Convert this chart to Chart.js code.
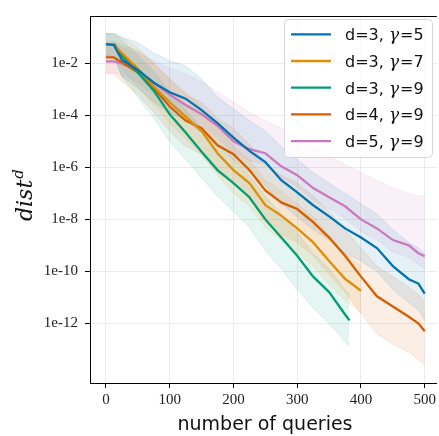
<!DOCTYPE html>
<html>
<head>
<meta charset="utf-8">
<script src="https://cdn.jsdelivr.net/npm/chart.js@4/dist/chart.umd.min.js"></script>
<style>
  body { margin: 0; background: #fff; }
  canvas { display: block; }
</style>
</head>
<body>
<canvas id="myChart" width="439" height="436"></canvas>
<script>
// x values (number of queries)
const queries = [0, 12, 25, 50, 75, 100, 125, 150, 175, 200, 225, 250, 275, 300, 325, 350, 375, 400, 425, 450, 475, 490, 500]
const queriesG7 = [0, 12, 25, 50, 75, 100, 125, 150, 175, 200, 225, 250, 275, 300, 325, 350, 375, 400]
const queriesG9 = [0, 14, 25, 50, 75, 100, 125, 150, 175, 200, 225, 250, 275, 300, 325, 350, 375, 382]

// d=3, gamma=5
const d3g5 = [5.5e-2, 5.2e-2, 1.4e-2, 5.6e-3, 1.8e-3, 7.8e-4, 4.4e-4, 1.6e-4, 5.0e-5, 1.4e-5, 4.3e-6, 1.6e-6, 3.2e-7, 1.1e-7, 3.5e-8, 1.3e-8, 4.5e-9, 2.0e-9, 7.9e-10, 1.6e-10, 5.0e-11, 3.4e-11, 1.4e-11]
const d3g5Hi = [1.4e-1, 1.4e-1, 1.0e-1, 6.3e-2, 2.5e-2, 1.3e-2, 7.9e-3, 2.5e-3, 5.0e-4, 1.8e-4, 6.3e-5, 2.5e-5, 6.3e-6, 2.0e-6, 6.3e-7, 2.5e-7, 1.0e-7, 4.0e-8, 1.6e-8, 4.0e-9, 1.3e-9, 7.9e-10, 5.0e-10]
const d3g5Lo = [2.0e-2, 1.8e-2, 3.2e-3, 1.1e-3, 3.2e-4, 1.3e-4, 6.3e-5, 2.2e-5, 7.9e-6, 2.0e-6, 6.3e-7, 2.0e-7, 4.0e-8, 1.3e-8, 4.0e-9, 1.6e-9, 5.0e-10, 2.5e-10, 1.0e-10, 2.0e-11, 6.3e-12, 3.2e-12, 1.3e-12]

// d=3, gamma=7
const d3g7 = [5.5e-2, 5.2e-2, 2.5e-2, 6.3e-3, 1.3e-3, 3.2e-4, 8.9e-5, 2.5e-5, 3.5e-6, 7.9e-7, 2.5e-7, 3.5e-8, 1.4e-8, 4.5e-9, 1.3e-9, 2.5e-10, 5.2e-11, 1.8e-11]
const d3g7Hi = [1.4e-1, 1.3e-1, 1.0e-1, 4.0e-2, 1.0e-2, 2.5e-3, 7.9e-4, 2.0e-4, 3.2e-5, 6.3e-6, 2.0e-6, 3.2e-7, 1.3e-7, 4.0e-8, 1.3e-8, 2.5e-9, 5.0e-10, 1.6e-10]
const d3g7Lo = [2.0e-2, 1.8e-2, 6.3e-3, 1.3e-3, 2.5e-4, 5.0e-5, 1.3e-5, 3.2e-6, 5.0e-7, 1.0e-7, 3.2e-8, 5.0e-9, 1.6e-9, 5.0e-10, 1.6e-10, 3.2e-11, 7.9e-12, 2.5e-12]

// d=3, gamma=9
const d3g9 = [5.5e-2, 5.2e-2, 2.0e-2, 4.5e-3, 8.9e-4, 1.1e-4, 2.2e-5, 4.0e-6, 7.9e-7, 2.5e-7, 7.1e-8, 1.0e-8, 2.0e-9, 4.0e-10, 6.3e-11, 1.6e-11, 2.2e-12, 1.3e-12]
const d3g9Hi = [1.4e-1, 1.4e-1, 7.9e-2, 2.0e-2, 5.0e-3, 7.9e-4, 1.6e-4, 3.2e-5, 6.3e-6, 2.0e-6, 5.0e-7, 7.9e-8, 1.6e-8, 3.2e-9, 5.0e-10, 1.3e-10, 2.0e-11, 1.3e-11]
const d3g9Lo = [2.0e-2, 1.8e-2, 3.2e-3, 5.0e-4, 7.9e-5, 1.0e-5, 2.0e-6, 4.0e-7, 7.9e-8, 2.0e-8, 5.0e-9, 6.3e-10, 1.3e-10, 2.0e-11, 4.0e-12, 1.0e-12, 2.0e-13, 1.3e-13]

// d=4, gamma=9
const d4g9 = [1.7e-2, 1.7e-2, 1.1e-2, 4.5e-3, 1.1e-3, 2.2e-4, 6.3e-5, 3.2e-5, 7.1e-6, 3.2e-6, 7.9e-7, 1.3e-7, 4.5e-8, 2.5e-8, 7.9e-9, 2.0e-9, 4.0e-10, 6.3e-11, 1.1e-11, 4.5e-12, 1.8e-12, 1.0e-12, 5.0e-13]
const d4g9Hi = [7.1e-2, 7.1e-2, 5.0e-2, 3.2e-2, 1.0e-2, 2.5e-3, 6.3e-4, 3.2e-4, 7.9e-5, 3.2e-5, 7.9e-6, 1.3e-6, 5.0e-7, 2.5e-7, 7.9e-8, 2.0e-8, 4.0e-9, 7.9e-10, 1.6e-10, 6.3e-11, 2.5e-11, 1.3e-11, 6.3e-12]
const d4g9Lo = [4.0e-3, 4.0e-3, 2.0e-3, 6.3e-4, 1.3e-4, 2.5e-5, 6.3e-6, 3.2e-6, 6.3e-7, 2.5e-7, 6.3e-8, 7.9e-9, 2.5e-9, 1.3e-9, 4.0e-10, 7.9e-11, 1.6e-11, 2.5e-12, 4.0e-13, 1.6e-13, 7.9e-14, 4.0e-14, 2.5e-14]

// d=5, gamma=9
const d5g9 = [1.2e-2, 1.2e-2, 1.0e-2, 5.0e-3, 1.8e-3, 6.3e-4, 2.5e-4, 1.1e-4, 4.0e-5, 1.0e-5, 5.0e-6, 3.5e-6, 1.1e-6, 5.0e-7, 1.6e-7, 7.1e-8, 3.2e-8, 1.0e-8, 4.5e-9, 1.6e-9, 1.0e-9, 5.0e-10, 3.8e-10]
const d5g9Hi = [5.0e-2, 5.0e-2, 4.0e-2, 2.5e-2, 1.3e-2, 6.3e-3, 4.0e-3, 2.0e-3, 7.9e-4, 3.2e-4, 1.3e-4, 6.3e-5, 3.2e-5, 1.6e-5, 6.3e-6, 2.5e-6, 1.3e-6, 6.3e-7, 3.2e-7, 1.6e-7, 1.0e-7, 7.9e-8, 7.9e-8]
const d5g9Lo = [4.5e-3, 4.5e-3, 3.5e-3, 1.8e-3, 6.3e-4, 2.2e-4, 8.9e-5, 4.0e-5, 1.4e-5, 3.5e-6, 1.8e-6, 1.3e-6, 4.0e-7, 1.8e-7, 5.6e-8, 2.5e-8, 1.1e-8, 3.5e-9, 1.6e-9, 5.6e-10, 3.5e-10, 1.8e-10, 1.3e-10]

const seriesLabels = ['d=3, γ=5', 'd=3, γ=7', 'd=3, γ=9', 'd=4, γ=9', 'd=5, γ=9']
const xTicks = [0, 100, 200, 300, 400, 500]
const yTicks = [1e-2, 1e-4, 1e-6, 1e-8, 1e-10, 1e-12]
const yTickLabels = ['1e-2', '1e-4', '1e-6', '1e-8', '1e-10', '1e-12']

const colors = ['1,115,178', '222,143,5', '2,158,115', '213,94,0', '204,120,188']
const series = [
  [queries, d3g5, d3g5Hi, d3g5Lo],
  [queriesG7, d3g7, d3g7Hi, d3g7Lo],
  [queriesG9, d3g9, d3g9Hi, d3g9Lo],
  [queries, d4g9, d4g9Hi, d4g9Lo],
  [queries, d5g9, d5g9Hi, d5g9Lo],
]

const pts = (xs, ys) => xs.map((x, i) => ({x: x, y: ys[i]}))

let datasets = []
series.forEach((s, i) => {
  datasets.push({
    label: 'hi' + i, data: pts(s[0], s[2]), fill: '+1',
    backgroundColor: 'rgba(' + colors[i] + ',0.1)',
    borderColor: 'rgba(' + colors[i] + ',0.12)', borderWidth: 1,
    pointRadius: 0, order: 2
  })
  datasets.push({
    label: 'lo' + i, data: pts(s[0], s[3]), fill: false,
    borderColor: 'rgba(' + colors[i] + ',0.12)', borderWidth: 1,
    pointRadius: 0, order: 2
  })
})
series.forEach((s, i) => {
  datasets.push({
    label: seriesLabels[i], data: pts(s[0], s[1]), fill: false,
    borderColor: 'rgb(' + colors[i] + ')', borderWidth: 2.3,
    pointRadius: 0, order: 1
  })
})

// frame top line, axis titles and legend box
const extras = {
  id: 'extras',
  afterDraw(chart) {
    const c = chart.ctx
    const a = chart.chartArea
    c.save()
    c.strokeStyle = '#000'
    c.lineWidth = 1
    c.beginPath()
    c.moveTo(a.left, a.top + 0.5)
    c.lineTo(a.right, a.top + 0.5)
    c.stroke()

    // x title
    c.fillStyle = '#111'
    c.font = '19px "DejaVu Sans"'
    c.textAlign = 'center'
    c.textBaseline = 'alphabetic'
    c.fillText('number of queries', 265, 430)

    // y title
    c.save()
    c.translate(32, 221)
    c.rotate(-Math.PI / 2)
    c.textAlign = 'left'
    c.font = 'italic 22px "DejaVu Serif"'
    c.fillText('dist', 0, 0)
    const w = c.measureText('dist').width
    c.font = 'italic 15px "DejaVu Serif"'
    c.fillText('d', w + 1, -9)
    c.restore()

    // legend
    const lx = 284.5, ly = 19.5, lw = 148, lh = 138
    c.beginPath()
    c.roundRect(lx, ly, lw, lh, 4)
    c.fillStyle = 'rgba(255,255,255,0.8)'
    c.fill()
    c.strokeStyle = '#d6d6d6'
    c.stroke()
    seriesLabels.forEach((lab, i) => {
      const yc = 34.3 + i * 26.7
      c.strokeStyle = 'rgb(' + colors[i] + ')'
      c.lineWidth = 2.3
      c.beginPath()
      c.moveTo(291, yc)
      c.lineTo(331, yc)
      c.stroke()
      const parts = lab.split('γ')
      let x = 345
      const base = yc + 6
      c.fillStyle = '#111'
      c.textAlign = 'left'
      c.font = '16px "DejaVu Sans"'
      c.fillText(parts[0], x, base)
      x += c.measureText(parts[0]).width
      c.font = 'italic 17px "DejaVu Serif"'
      c.fillText('γ', x, base)
      x += c.measureText('γ').width + 1
      c.font = '16px "DejaVu Sans"'
      c.fillText(parts[1], x, base)
    })
    c.restore()
  }
}

const tickFont = {family: '"Liberation Serif"', size: 15}

const ctx = document.getElementById('myChart')
const charts = new Chart(ctx, {
  type: 'line',
  data: {datasets: datasets},
  options: {
    responsive: false,
    animation: false,
    devicePixelRatio: 1,
    layout: {padding: {top: 9, right: 0, left: 0, bottom: 0}},
    plugins: {legend: {display: false}, tooltip: {enabled: false}},
    elements: {line: {tension: 0}},
    scales: {
      x: {
        type: 'linear', min: -25, max: 519,
        afterBuildTicks: (s) => { s.ticks = xTicks.map(v => ({value: v})) },
        afterFit: (s) => { s.height = 53 },
        ticks: {font: tickFont, color: '#222', padding: 3, autoSkip: false, maxRotation: 0},
        grid: {color: '#ebebeb', tickColor: '#000', tickLength: 5},
        border: {color: '#000', width: 1}
      },
      y: {
        type: 'logarithmic', min: 5.1e-15, max: 0.665,
        afterBuildTicks: (s) => { s.ticks = yTicks.map(v => ({value: v})) },
        afterFit: (s) => { s.width = 90 },
        ticks: {
          font: tickFont, color: '#222', padding: 7, autoSkip: false,
          callback: (v, i) => yTickLabels[i]
        },
        grid: {color: '#ebebeb', tickColor: '#000', tickLength: 5},
        border: {color: '#000', width: 1}
      }
    }
  },
  plugins: [extras]
})
</script>
</body>
</html>
